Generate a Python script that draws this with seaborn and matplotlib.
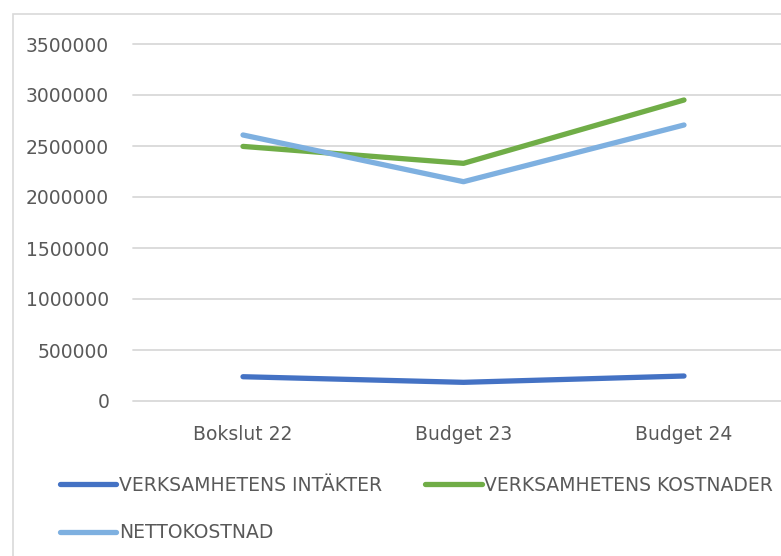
import pandas as pd
import matplotlib.pyplot as plt
import seaborn as sns
from matplotlib.patches import Rectangle
from matplotlib.lines import Line2D

# Data
periods = ["Bokslut 22", "Budget 23", "Budget 24"]
intakter = [238000, 183000, 245000]
kostnader = [2496000, 2330000, 2951000]
netto = [2608000, 2150000, 2706000]

series_names = ["VERKSAMHETENS INTÄKTER", "VERKSAMHETENS KOSTNADER", "NETTOKOSTNAD"]
colors = ["#4472C4", "#70AD47", "#7EB0E0"]
y_ticks = [0, 500000, 1000000, 1500000, 2000000, 2500000, 3000000, 3500000]

df = pd.DataFrame({
    "period": periods * 3,
    "value": intakter + kostnader + netto,
    "serie": [series_names[0]] * 3 + [series_names[1]] * 3 + [series_names[2]] * 3,
})

sns.set_theme(style="white")
plt.rcParams["font.family"] = ["DejaVu Sans"]
text_color = "#595959"
grid_color = "#D9D9D9"
fs = 13.5

fig = plt.figure(figsize=(7.81, 5.56), dpi=100)

# outer chart border (Excel chart area)
fig.patches.append(Rectangle((13 / 781, -0.1), 1.2, 1 - 14 / 556 + 0.1, transform=fig.transFigure,
                             fill=False, edgecolor=grid_color, linewidth=1.2))

left_px, right_px = 132.75, 794.25
top_px, bottom_px = 44, 401
ax = fig.add_axes([left_px / 781, 1 - bottom_px / 556, (right_px - left_px) / 781, (bottom_px - top_px) / 556])

# draw NETTO first so KOSTNADER lies on top, like in the original
draw_order = [2, 1, 0]
for i in draw_order:
    sub = df[df["serie"] == series_names[i]]
    sns.lineplot(data=sub, x="period", y="value", color=colors[i], linewidth=3.8,
                 sort=False, ax=ax, legend=False, solid_capstyle="round", zorder=3 + i)

ax.set_xlim(-0.5, 2.5)
ax.set_ylim(0, 3500000)
ax.set_yticks(y_ticks)
ax.set_yticklabels([str(v) for v in y_ticks])
ax.yaxis.grid(True, color=grid_color, linewidth=1.3)
for gl in ax.yaxis.get_gridlines():
    gl.set_clip_on(False)
ax.xaxis.grid(False)
for s in ax.spines.values():
    s.set_visible(False)
ax.tick_params(axis="both", length=0, labelsize=fs, labelcolor=text_color)
ax.tick_params(axis="y", pad=17)
ax.tick_params(axis="x", pad=17)
ax.set_xlabel("")
ax.set_ylabel("")

# legend: row 1 INTÄKTER, KOSTNADER; row 2 NETTOKOSTNAD
handles = [Line2D([0], [0], color=c, linewidth=3.8, solid_capstyle="round") for c in colors]
order = [0, 2, 1]
fig.legend([handles[i] for i in order], [series_names[i] for i in order],
           loc="upper left", bbox_to_anchor=(60 / 781, 1 - 476 / 556), ncol=2, frameon=False,
           fontsize=fs, labelcolor=text_color, handlelength=3.0, handletextpad=0.15,
           columnspacing=2.3, labelspacing=1.52, borderpad=0, borderaxespad=0)

fig.savefig("out.png", dpi=100)
